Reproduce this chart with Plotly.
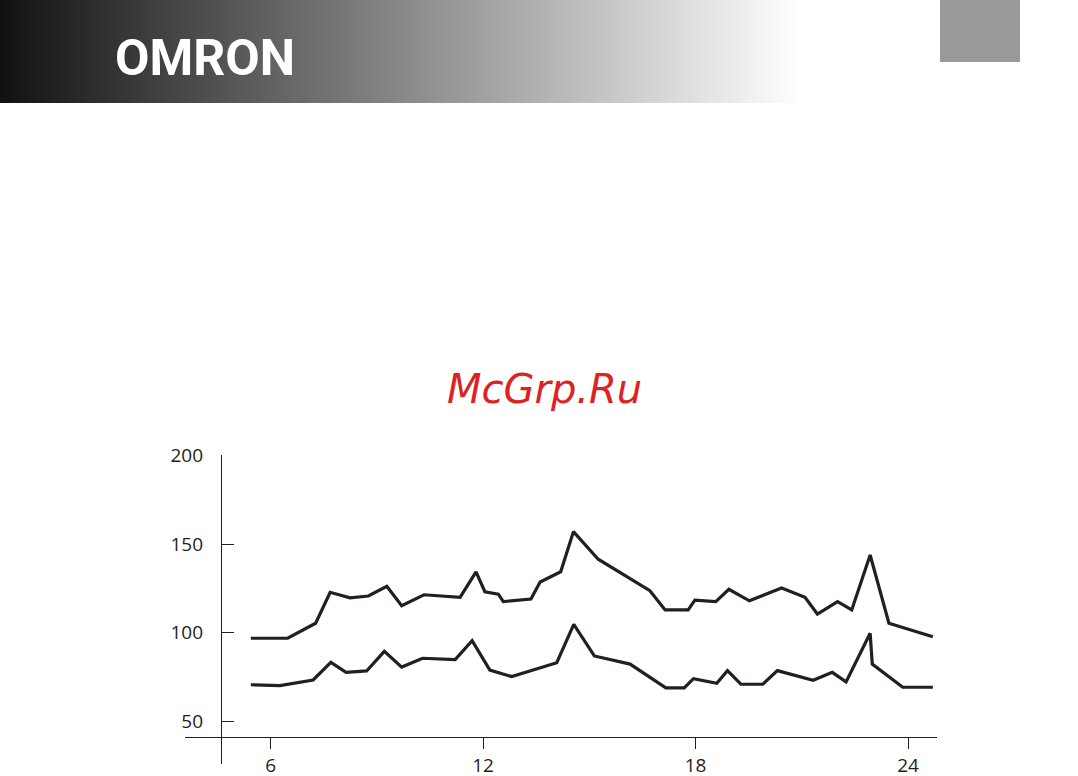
import base64
import plotly.graph_objects as go

# ---- data (hour of day, mmHg) ----
sys_hours = [5.44, 6.48, 7.27, 7.68, 8.24, 8.76, 9.28, 9.70, 10.33, 11.35, 11.80, 12.05,
             12.43, 12.57, 13.35, 13.61, 14.19, 14.55, 15.25, 16.71, 17.14, 17.79, 17.98,
             18.57, 18.94, 19.52, 20.43, 21.09, 21.44, 22.01, 22.41, 22.93, 23.46, 24.70]
sys_vals = [96.8, 96.8, 105.3, 122.8, 119.7, 120.7, 126.2, 115.2, 121.4, 120.0, 134.4, 123.1,
            121.7, 117.5, 119.0, 128.6, 134.4, 157.1, 141.5, 123.7, 112.8, 112.8, 118.4,
            117.5, 124.5, 118.0, 125.2, 120.0, 110.5, 117.5, 112.8, 143.9, 105.3, 97.7]

dia_hours = [5.44, 6.26, 7.20, 7.70, 8.13, 8.71, 9.21, 9.70, 10.29, 11.21, 11.69, 12.19,
             12.81, 14.08, 14.56, 15.14, 16.15, 17.16, 17.68, 17.94, 18.60, 18.90, 19.28,
             19.90, 20.31, 21.32, 21.86, 22.25, 22.93, 22.99, 23.85, 24.70]
dia_vals = [70.5, 70.0, 73.2, 83.2, 77.5, 78.3, 89.4, 80.5, 85.5, 84.7, 95.4, 78.8,
            75.1, 83.0, 104.7, 86.8, 82.2, 68.7, 68.7, 73.9, 71.3, 78.5, 70.8,
            70.8, 78.5, 73.0, 77.5, 72.1, 99.6, 82.2, 69.1, 69.1]

x_ticks = [6, 12, 18, 24]
y_ticks = [50, 100, 150, 200]

INK = "#231f20"
W, H = 1078, 776
ML, MR, MT, MB = 185, W - 937, 455, H - 764
PW, PH = W - ML - MR, H - MT - MB


def px(x):
    return (x - ML) / PW


def py(y):
    return (H - MB - y) / PH


fig = go.Figure()
for xs, ys in [(sys_hours, sys_vals), (dia_hours, dia_vals)]:
    fig.add_trace(go.Scatter(x=xs, y=ys, mode="lines",
                             line=dict(color=INK, width=3.2),
                             showlegend=False, hoverinfo="skip"))

# header gradient as inline SVG image
svg = ('<svg xmlns="http://www.w3.org/2000/svg" width="800" height="103">'
       '<defs><linearGradient id="g" x1="0" x2="1" y1="0" y2="0">'
       '<stop offset="0" stop-color="#111111"/><stop offset="1" stop-color="#ffffff"/>'
       '</linearGradient></defs><rect width="800" height="103" fill="url(#g)"/></svg>')
src = "data:image/svg+xml;base64," + base64.b64encode(svg.encode()).decode()
fig.add_layout_image(dict(source=src, xref="paper", yref="paper",
                          x=px(0), y=py(0), sizex=800 / PW, sizey=103 / PH,
                          xanchor="left", yanchor="top", sizing="stretch", layer="below"))

fig.add_shape(type="rect", xref="paper", yref="paper",
              x0=px(940), x1=px(1020), y0=py(0), y1=py(62),
              fillcolor="#999999", line=dict(width=0))

fig.add_annotation(text="<b>OMRON</b>", xref="paper", yref="paper",
                   x=px(205), y=py(58), xanchor="center", yanchor="middle",
                   showarrow=False, font=dict(family="Roboto", size=50, color="white"))

fig.add_annotation(text="<i>McGrp.Ru</i>", xref="paper", yref="paper",
                   x=px(544), y=py(389), xanchor="center", yanchor="middle",
                   showarrow=False,
                   font=dict(family="DejaVu Sans", size=40, color="#dd2222"))

fig.update_layout(
    width=W, height=H,
    margin=dict(l=ML, r=MR, t=MT, b=MB, pad=0, autoexpand=False),
    paper_bgcolor="white", plot_bgcolor="white",
    xaxis=dict(range=[(185 - 58.2) / 35.41, (937 - 58.2) / 35.41],
               tickvals=x_ticks, ticktext=[str(v) for v in x_ticks],
               ticks="outside", ticklen=11, tickwidth=1.2, tickcolor=INK,
               showline=True, linecolor=INK, linewidth=1.2,
               showgrid=False, zeroline=False, automargin=False,
               anchor="free", position=py(737),
               ticklabelstandoff=0,
               tickfont=dict(family="Open Sans", size=19, color=INK)),
    yaxis=dict(range=[125 + (588.4 - 764) / 1.768, 125 + (588.4 - 455) / 1.768],
               tickvals=y_ticks, ticktext=[str(v) for v in y_ticks],
               ticks="inside", ticklen=12, tickwidth=1.2, tickcolor=INK,
               showline=True, linecolor=INK, linewidth=1.2,
               showgrid=False, zeroline=False, automargin=False,
               anchor="free", position=px(221),
               ticklabelstandoff=14,
               tickfont=dict(family="Open Sans", size=19, color=INK)),
)

fig.write_html("out.html", config={"displayModeBar": False},
               post_script="document.body.style.margin='0px';")
